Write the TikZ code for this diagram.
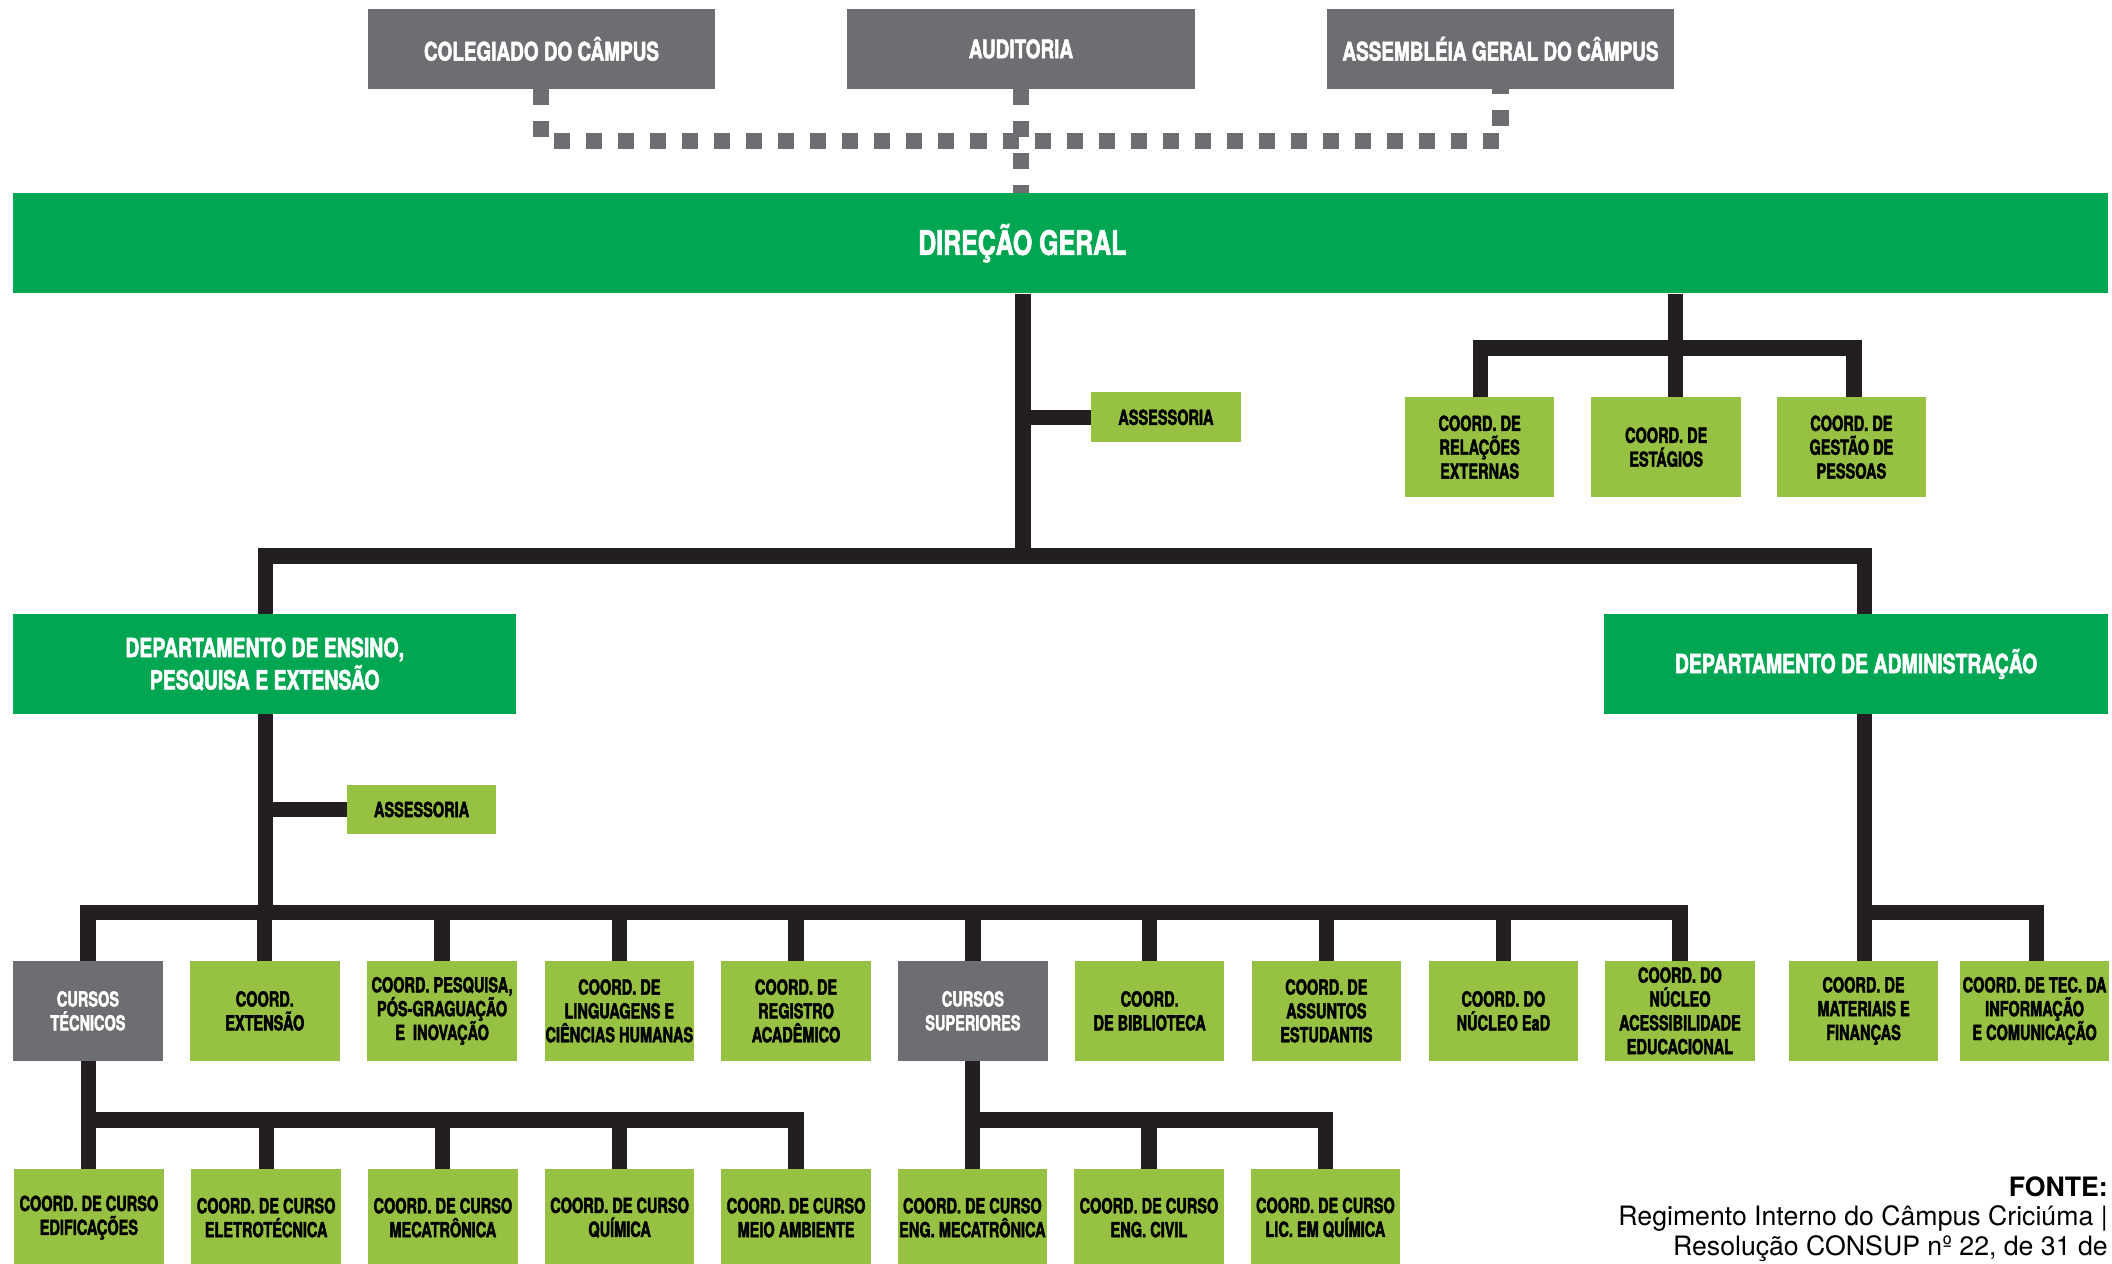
\documentclass[tikz,border=0pt]{standalone}
\usepackage{fontspec}
\setmainfont{TeX Gyre Heros}
\newfontfamily\cnd[FakeStretch=0.74,FakeBold=2]{TeX Gyre Heros}
\newfontfamily\cnds[FakeStretch=0.70,FakeBold=2]{TeX Gyre Heros}
\definecolor{cgray}{HTML}{6D6E71}
\definecolor{cgreen}{HTML}{00A651}
\definecolor{clight}{HTML}{96C142}
\definecolor{cblack}{HTML}{231F20}
\tikzset{
  topbox/.style={fill=cgray, text=white, inner sep=0pt, minimum width=258pt, minimum height=59pt, align=center, font=\cnd\bfseries\fontsize{19}{22}\selectfont},
  bigbox/.style={fill=cgreen, text=white, inner sep=0pt, minimum height=74pt, align=center, font=\cnd\bfseries\fontsize{19.5}{24}\selectfont},
  lbox/.style={fill=clight, text=black, inner sep=0pt, minimum width=111pt, minimum height=74pt, align=center, font=\cnds\bfseries\fontsize{15.4}{17.7}\selectfont},
  gsbox/.style={lbox, fill=cgray, text=white},
  abox/.style={lbox, minimum height=37pt},
  conn/.style={draw=cblack, line width=11.3pt, line join=miter},
  dashline/.style={draw=cgray, line width=11.9pt, dash pattern=on 11.9pt off 11.9pt},
}
\begin{document}
\begin{tikzpicture}[x=1pt,y=-1pt]
\useasboundingbox (0,0) rectangle (1568,938.4);
\clip (0,0) rectangle (1568,938.4);
% top boxes
\node[topbox] (col) at (402,36.3) {COLEGIADO DO CÂMPUS};
\node[topbox] (aud) at (758,36.3) {AUDITORIA};
\node[topbox] (ass) at (1114,36.3) {ASSEMBLÉIA GERAL DO CÂMPUS};
% direcao geral
\node[bigbox, minimum width=1555pt, minimum height=74.3pt] (dir) at (787.5,180.6) {};
\node[text=white, inner sep=0pt, font=\cnd\bfseries\fontsize{25}{28}\selectfont] (dirlabel) at (759,180.6) {DIREÇÃO GERAL};
% dashed connectors
\coordinate (jd) at (402,104.5);
\draw[dashline] (col.south) -- (col.south |- jd) -- (ass.south |- jd) -- (ass.south);
\draw[dashline] (aud.south) -- (aud.south |- dir.north);
% assessoria 1
\node[abox] (as1) at (865.6,309.8) {ASSESSORIA};
% right group
\node[lbox] (rel) at (1098.5,332) {COORD. DE\\RELAÇÕES\\EXTERNAS};
\node[lbox] (est) at (1237,332) {COORD. DE\\ESTÁGIOS};
\node[lbox] (ges) at (1374.5,332) {COORD. DE\\GESTÃO DE\\PESSOAS};
% departments
\node[bigbox, minimum width=373pt] (den) at (196.5,493) {DEPARTAMENTO DE ENSINO,\\PESQUISA E EXTENSÃO};
\node[bigbox, minimum width=374pt] (dad) at (1378,493) {DEPARTAMENTO DE ADMINISTRAÇÃO};
% assessoria 2
\node[abox] (as2) at (313,601) {ASSESSORIA};
% row
\node[gsbox] (r1) at (65.3,750.5) {CURSOS\\TÉCNICOS};
\node[lbox] (r2) at (196.6,750.5) {COORD.\\EXTENSÃO};
\node[lbox] (r3) at (328.2,750.5) {COORD. PESQUISA,\\PÓS-GRAGUAÇÃO\\E\ \ INOVAÇÃO};
\node[lbox] (r4) at (459.8,750.5) {COORD. DE\\LINGUAGENS E\\CIÊNCIAS HUMANAS};
\node[lbox] (r5) at (591,750.5) {COORD. DE\\REGISTRO\\ACADÊMICO};
\node[gsbox] (r6) at (722.3,750.5) {CURSOS\\SUPERIORES};
\node[lbox] (r7) at (853.5,750.5) {COORD.\\DE BIBLIOTECA};
\node[lbox] (r8) at (984.7,750.5) {COORD. DE\\ASSUNTOS\\ESTUDANTIS};
\node[lbox] (r9) at (1116.1,750.5) {COORD. DO\\NÚCLEO EaD};
\node[lbox] (r10) at (1247.2,750.5) {COORD. DO\\NÚCLEO\\ACESSIBILIDADE\\EDUCACIONAL};
\node[lbox] (r11) at (1383.5,750.5) {COORD. DE\\MATERIAIS E\\FINANÇAS};
\node[lbox] (r12) at (1510.5,750.5) {COORD. DE TEC. DA\\INFORMAÇÃO\\E COMUNICAÇÃO};
% bottom row
\node[lbox, minimum height=72pt] (b1) at (66,904) {COORD. DE CURSO\\EDIFICAÇÕES};
\node[lbox, minimum height=72pt] (b2) at (197.6,904) {COORD. DE CURSO\\ELETROTÉCNICA};
\node[lbox, minimum height=72pt] (b3) at (328.8,904) {COORD. DE CURSO\\MECATRÔNICA};
\node[lbox, minimum height=72pt] (b4) at (460,904) {COORD. DE CURSO\\QUÍMICA};
\node[lbox, minimum height=72pt] (b5) at (591,904) {COORD. DE CURSO\\MEIO AMBIENTE};
\node[lbox, minimum height=72pt] (b6) at (721.9,904) {COORD. DE CURSO\\ENG. MECATRÔNICA};
\node[lbox, minimum height=72pt] (b7) at (853,904) {COORD. DE CURSO\\ENG. CIVIL};
\node[lbox, minimum height=72pt] (b8) at (984,904) {COORD. DE CURSO\\LIC. EM QUÍMICA};
% junction coordinates
\coordinate (jmain) at (759.5,412.8);
\coordinate (jas1) at (759.5,309.8);
\coordinate (jr) at (1244,258.4);
\coordinate (jas2) at (197,601);
\coordinate (jrow) at (197,677.5);
\coordinate (jadm) at (1384,677.5);
\coordinate (jbt) at (65.8,831.5);
\coordinate (jbs) at (721.9,831.5);
\coordinate (jrel) at (1099,258.4);
\coordinate (jges) at (1376.5,258.4);
\coordinate (jtec) at (1512,677.5);
% connectors from direcao
\draw[conn] (dir.south -| jmain) -- (jmain);
\draw[conn] (jas1) -- (as1.west);
\draw[conn] (den.north -| jrow) -- (jrow |- jmain) -- (jmain -| jadm) -- (jadm |- dad.north);
% right group
\draw[conn] (dir.south -| jr) -- (jr |- rel.north);
\draw[conn] (jrel |- rel.north) -- (jrel) -- (jges) -- (jges |- ges.north);
% departamento de ensino
\draw[conn] (den.south -| jrow) -- (jrow);
\draw[conn] (jas2) -- (as2.west);
\draw[conn] (r1.north) -- (r1.north |- jrow) -- (r10.north |- jrow) -- (r10.north);
\foreach \n in {r2,r3,r4,r5,r6,r7,r8,r9}{
  \draw[conn] (\n.north |- jrow) -- (\n.north);
}
% departamento de administracao
\draw[conn] (dad.south -| jadm) -- (jadm |- r11.north);
\draw[conn] (jadm) -- (jtec) -- (jtec |- r12.north);
% cursos tecnicos
\draw[conn] (r1.south -| jbt) -- (jbt |- b1.north);
\draw[conn] (jbt) -- (jbt -| b5.north) -- (b5.north);
\foreach \n in {b2,b3,b4}{
  \draw[conn] (\n.north |- jbt) -- (\n.north);
}
% cursos superiores
\draw[conn] (r6.south -| jbs) -- (jbs |- b6.north);
\draw[conn] (jbs) -- (jbs -| b8.north) -- (b8.north);
\draw[conn] (b7.north |- jbs) -- (b7.north);
% source text
\node[anchor=east, align=right, inner sep=0pt, font=\fontsize{19.8}{22}\selectfont] (fonte) at (1565,905) {\textbf{FONTE:}\\Regimento Interno do Câmpus Criciúma |\\Resolução CONSUP nº 22, de 31 de};
\end{tikzpicture}
\end{document}
